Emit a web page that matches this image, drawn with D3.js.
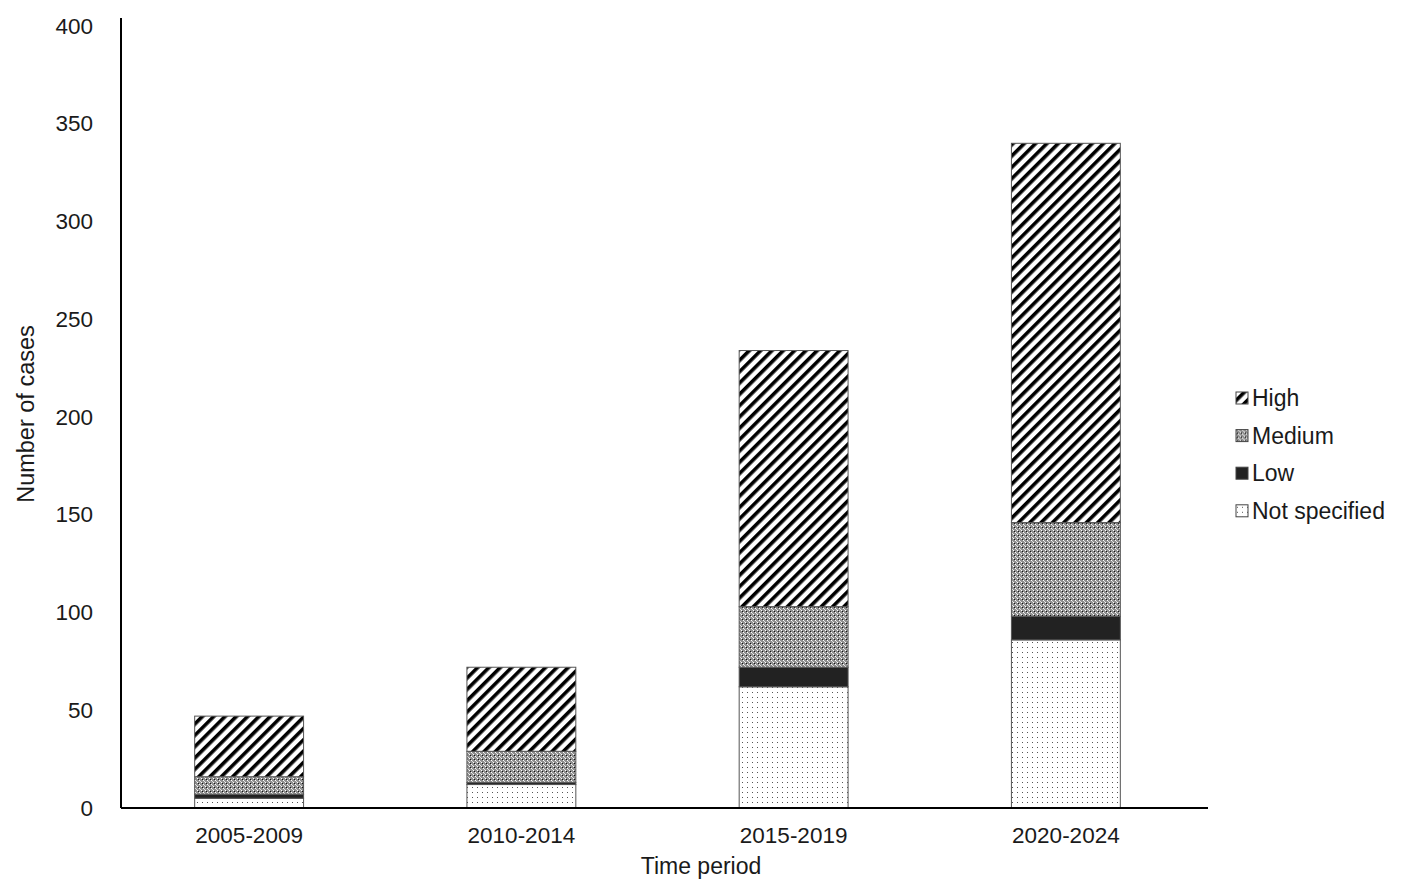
<!DOCTYPE html>
<html>
<head>
<meta charset="utf-8">
<script src="https://cdn.jsdelivr.net/npm/d3@7"></script>
<style>
	body { margin: 0; background: #fff; font-family: "Liberation Sans", Arial, sans-serif; }
	#graphic text { fill: #1a1a1a; }
</style>
</head>
<body>
<div id="graphic"></div>
<script>
// Data
const periods = ['2005-2009', '2010-2014', '2015-2019', '2020-2024'];
const levels = ['Not specified', 'Low', 'Medium', 'High'];
const notSpecified = [5, 12, 62, 86];
const low = [2, 1, 10, 12];
const medium = [9, 16, 31, 48];
const high = [31, 43, 131, 194];
const yTicks = [0, 50, 100, 150, 200, 250, 300, 350, 400];

const graphicData = periods.map((p, i) => ({
	period: p,
	'Not specified': notSpecified[i],
	'Low': low[i],
	'Medium': medium[i],
	'High': high[i]
}));

const width = 1415, height = 883;
const margin = { top: 26, right: 207, bottom: 75, left: 121 };
const chartWidth = width - margin.left - margin.right;
const chartHeight = height - margin.top - margin.bottom;

const svg = d3.select('#graphic')
	.append('svg')
	.attr('width', width)
	.attr('height', height);

// patterns to mimic the excel fills
const defs = svg.append('defs');

const hatch = defs.append('pattern')
	.attr('id', 'pat-high')
	.attr('patternUnits', 'userSpaceOnUse')
	.attr('width', 8).attr('height', 8)
	.attr('patternTransform', 'rotate(45)');
hatch.append('rect').attr('width', 8).attr('height', 8).attr('fill', '#fff');
hatch.append('rect').attr('x', 0).attr('width', 3.6).attr('height', 8).attr('fill', '#000');

const checker = defs.append('pattern')
	.attr('id', 'pat-medium')
	.attr('patternUnits', 'userSpaceOnUse')
	.attr('width', 4).attr('height', 4);
checker.append('rect').attr('width', 4).attr('height', 4).attr('fill', '#8f8f8f');
checker.append('rect').attr('x', 0).attr('y', 0).attr('width', 1).attr('height', 1).attr('fill', '#fff');
checker.append('rect').attr('x', 2).attr('y', 2).attr('width', 1).attr('height', 1).attr('fill', '#fff');
checker.append('rect').attr('x', 1).attr('y', 1).attr('width', 1).attr('height', 1).attr('fill', '#111');
checker.append('rect').attr('x', 3).attr('y', 3).attr('width', 1).attr('height', 1).attr('fill', '#ddd');

const dots = defs.append('pattern')
	.attr('id', 'pat-ns')
	.attr('patternUnits', 'userSpaceOnUse')
	.attr('width', 5).attr('height', 5);
dots.append('rect').attr('width', 5).attr('height', 5).attr('fill', '#fff');
dots.append('rect').attr('x', 1).attr('y', 1).attr('width', 1).attr('height', 1).attr('fill', '#555');

const fills = {
	'High': 'url(#pat-high)',
	'Medium': 'url(#pat-medium)',
	'Low': '#222',
	'Not specified': 'url(#pat-ns)'
};

const g = svg.append('g').attr('transform', `translate(${margin.left},${margin.top})`);

const x = d3.scaleBand()
	.domain(periods)
	.range([-8, chartWidth - 6])
	.paddingInner(0.6)
	.paddingOuter(0.3);

const y = d3.scaleLinear()
	.domain([0, 400])
	.range([chartHeight, 0]);

const stacked = d3.stack().keys(levels)(graphicData);

g.selectAll('g.layer')
	.data(stacked)
	.join('g')
	.attr('class', 'layer')
	.attr('fill', d => fills[d.key])
	.selectAll('rect')
	.data(d => d)
	.join('rect')
	.attr('x', d => x(d.data.period))
	.attr('y', d => y(d[1]))
	.attr('width', x.bandwidth())
	.attr('height', d => y(d[0]) - y(d[1]))
	.attr('stroke', '#555')
	.attr('stroke-width', 1);

// y axis
const yAxis = g.append('g')
	.call(d3.axisLeft(y).tickValues(yTicks).tickSize(0).tickPadding(28));
yAxis.select('.domain').attr('d', `M0,-8V${chartHeight}`).attr('stroke', '#000').attr('stroke-width', 2);
yAxis.selectAll('text').style('font-size', '22.5px').style('font-family', '"Liberation Sans", Arial, sans-serif');

// x axis
const xAxis = g.append('g')
	.attr('transform', `translate(0,${chartHeight})`)
	.call(d3.axisBottom(x).tickSize(0).tickPadding(19));
xAxis.select('.domain').attr('d', `M0,0H${chartWidth}`).attr('stroke', '#000').attr('stroke-width', 2);
xAxis.selectAll('text').style('font-size', '22.5px').style('font-family', '"Liberation Sans", Arial, sans-serif');

// axis titles
svg.append('text')
	.attr('transform', `translate(34, 414) rotate(-90)`)
	.attr('text-anchor', 'middle')
	.style('font-size', '23.5px')
	.text('Number of cases');

svg.append('text')
	.attr('x', 701)
	.attr('y', 874)
	.attr('text-anchor', 'middle')
	.style('font-size', '23px')
	.text('Time period');

// legend
const legendOrder = ['High', 'Medium', 'Low', 'Not specified'];
const legend = svg.append('g').attr('transform', 'translate(1236, 398)');
const item = legend.selectAll('g')
	.data(legendOrder)
	.join('g')
	.attr('transform', (d, i) => `translate(0, ${i * 37.6})`);
item.append('rect')
	.attr('x', 0).attr('y', -6)
	.attr('width', 12).attr('height', 12)
	.attr('fill', d => fills[d])
	.attr('stroke', '#444').attr('stroke-width', 1);
item.append('text')
	.attr('x', 16)
	.attr('dy', '0.35em')
	.style('font-size', '23px')
	.text(d => d);
</script>
</body>
</html>
